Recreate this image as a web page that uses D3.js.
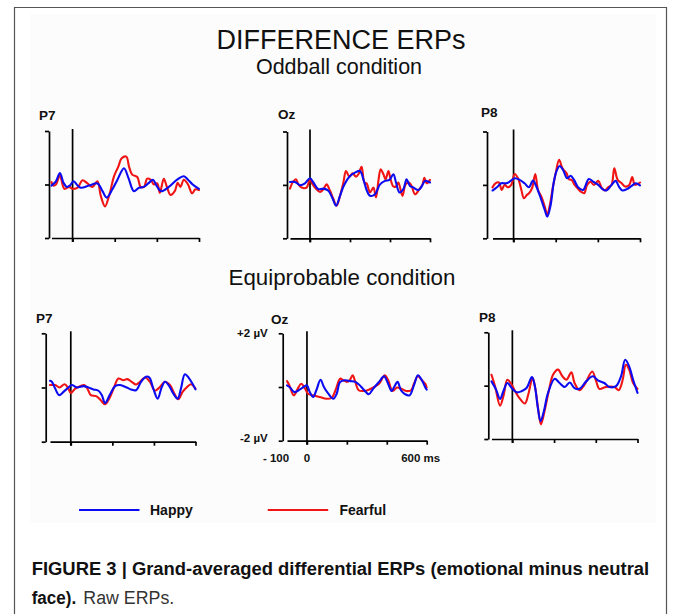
<!DOCTYPE html>
<html><head><meta charset="utf-8">
<script src="https://cdn.jsdelivr.net/npm/d3@7/dist/d3.min.js"></script>
<style>body{margin:0;background:#fff}svg{display:block}</style>
</head><body>
<svg id="chart" width="673" height="614"></svg>
<script>
// ---------- DATA ----------
const electrodes = ["P7", "Oz", "P8"];
const conditions = ["Oddball condition", "Equiprobable condition"];
const seriesNames = ["Happy", "Fearful"];
const xTicks = [0, 200, 400, 600];          // ms
const yTicks = [-2, 0, 2];                  // µV
const xDomain = [-100, 600];
const yDomain = [-2, 2];
const yLabels = ["+2 µV", "-2 µV"];
const xLabels = ["- 100", "0", "600 ms"];

// [ms, µV] — Oddball condition
const oddP7Happy = [[-100,-0.04],[-79,0.12],[-60,0.43],[-43,0.06],[-27,-0.09],[-13,-0.04],[5,0.12],[24,-0.04],[39,-0.12],[79,-0.04],[118,0.04],[142,-0.25],[162,-0.49],[189,-0.18],[213,0.18],[244,0.61],[265,0.25],[291,-0.25],[315,-0.12],[339,-0.09],[362,0.06],[381,0.18],[402,-0.09],[420,-0.25],[457,-0.09],[496,0.18],[528,0.31],[548,0.18],[570,0],[600,-0.16]];
const oddP7Fearful = [[-100,0.09],[-91,-0.04],[-79,0],[-60,0.33],[-39,-0.16],[-16,-0.09],[0,-0.16],[24,-0.12],[47,0.16],[71,0.04],[94,-0.09],[118,0.12],[134,-0.43],[154,-0.82],[173,-0.43],[197,0.31],[217,0.67],[233,0.98],[255,1.04],[268,0.67],[283,0.37],[307,0.28],[323,-0.09],[339,-0.09],[354,0.22],[370,0.18],[386,0],[402,0.04],[414,-0.31],[433,0.21],[449,-0.12],[465,-0.39],[485,-0.25],[499,0.06],[512,-0.09],[528,0.18],[548,0],[567,-0.33],[583,-0.18],[600,-0.21]];
const oddOzHappy = [[-100,0.11],[-75,0.11],[-50,-0.01],[-25,0.06],[0,0.25],[17,0.09],[42,-0.16],[67,-0.14],[92,-0.22],[113,-0.51],[130,-0.78],[150,-0.41],[170,-0.01],[200,0.33],[225,0.46],[250,0.52],[267,0.21],[283,-0.19],[300,-0.41],[325,-0.35],[350,0.02],[375,0.15],[397,0.19],[417,0.4],[430,0.09],[447,-0.28],[467,-0.16],[483,0.21],[500,-0.04],[517,-0.1],[542,-0.19],[558,-0.06],[575,0.15],[600,0.09]];
const oddOzFearful = [[-100,-0.14],[-87,0.09],[-70,0.21],[-58,0.02],[-42,-0.1],[-17,-0.1],[0,0.21],[13,0.02],[30,-0.14],[50,-0.26],[67,-0.16],[83,0.02],[100,-0.22],[117,-0.53],[133,-0.78],[150,-0.41],[167,0.09],[180,0.52],[197,0.31],[213,0.43],[230,0.31],[242,0.4],[258,0.68],[272,0.09],[283,0.06],[300,-0.28],[317,-0.1],[330,-0.47],[342,0.15],[353,0.58],[367,0.4],[378,0.21],[392,0.52],[403,0.21],[417,-0.06],[430,-0.06],[442,0.09],[462,-0.41],[478,0.02],[495,0.09],[508,-0.04],[525,-0.35],[547,-0.16],[563,0.02],[572,0.27],[583,0.06],[600,0.19]];
const oddP8Happy = [[-100,-0.21],[-79,-0.09],[-59,0.06],[-35,0.06],[-19,0.12],[5,0.25],[29,0.19],[52,0.06],[73,-0.09],[92,0.16],[108,-0.06],[129,-0.5],[148,-0.94],[160,-1.19],[176,-0.75],[190,0.06],[203,0.5],[219,0.71],[235,0.56],[254,0.25],[271,0.34],[287,0.19],[306,-0.09],[330,-0.19],[357,0.22],[378,0.12],[402,0],[422,-0.16],[441,-0.21],[465,0],[484,0.15],[502,-0.09],[517,-0.21],[537,-0.16],[560,-0.04],[579,0.06],[600,-0.02]];
const oddP8Fearful = [[-100,-0.09],[-86,0.06],[-70,0.09],[-56,-0.19],[-43,0],[-27,-0.09],[-11,0],[5,0.41],[21,0.25],[37,-0.19],[49,-0.5],[63,-0.38],[76,-0.29],[89,-0.09],[103,0.41],[116,-0.19],[132,-0.44],[148,-0.81],[160,-1.12],[171,-0.81],[187,-0.06],[200,0.44],[216,0.94],[232,0.62],[251,0.44],[263,0.21],[275,0.19],[290,0],[303,-0.12],[319,-0.25],[335,-0.31],[349,0],[365,0.12],[381,0],[402,0.15],[417,-0.09],[433,-0.21],[449,-0.09],[465,0],[478,0.62],[494,0.19],[513,0.06],[529,-0.06],[549,0],[563,0.29],[576,0],[600,0.09]];

// [ms, µV] — Equiprobable condition
const equiP7Happy = [[-100,0.25],[-91,0.21],[-75,-0.04],[-56,-0.28],[-35,-0.16],[-11,0],[5,0.09],[29,0],[61,0.05],[85,0],[109,-0.07],[133,-0.12],[149,-0.28],[165,-0.57],[189,-0.25],[213,0.05],[237,0.09],[269,0],[290,-0.07],[314,-0.1],[338,0.21],[362,0.4],[378,0.37],[397,-0.04],[418,-0.41],[437,0],[453,0.21],[474,0.05],[493,-0.22],[514,-0.41],[530,-0.04],[549,0.49],[570,0.33],[589,0.09],[600,-0.07]];
const equiP7Fearful = [[-100,0.09],[-75,0.09],[-54,0],[-30,0.12],[-14,0],[0,-0.2],[21,-0.04],[45,0.05],[64,0.09],[80,-0.04],[96,-0.28],[122,-0.32],[144,-0.47],[165,-0.62],[189,-0.35],[208,0],[229,0.33],[253,0.27],[272,0.31],[293,0.21],[314,0.11],[333,0.21],[357,0.37],[381,0.21],[405,-0.12],[429,0.02],[453,0.21],[477,0.09],[498,-0.22],[517,-0.43],[538,-0.16],[557,0],[578,0.12],[600,-0.04]];
const equiOzHappy = [[-100,0.06],[-85,-0.02],[-63,-0.19],[-37,-0.1],[-17,0],[0,0.06],[14,-0.19],[31,-0.37],[47,-0.12],[68,0.27],[85,0],[107,-0.25],[132,-0.44],[149,-0.25],[166,0.19],[191,0.25],[217,0.22],[242,0.19],[259,0.1],[285,-0.1],[310,-0.27],[332,-0.06],[361,0.19],[386,0.4],[403,0.19],[424,-0.15],[437,0],[454,0.19],[471,-0.12],[492,-0.27],[514,-0.31],[536,0.06],[556,0.44],[576,0.25],[593,-0.02],[600,-0.1]];
const equiOzFearful = [[-100,0.22],[-88,0.06],[-66,-0.31],[-46,-0.06],[-29,0.12],[-12,-0.02],[5,-0.25],[31,-0.31],[64,-0.37],[98,-0.44],[124,-0.4],[146,-0.06],[166,0.31],[183,0.25],[200,0.19],[214,0.25],[229,0.44],[242,0.19],[259,-0.12],[285,-0.15],[310,-0.1],[336,0],[361,0.12],[390,0.44],[407,0.25],[429,-0.15],[451,-0.02],[471,-0.06],[497,-0.15],[522,-0.12],[536,0.12],[556,0.4],[576,0.25],[593,0.12],[600,-0.02]];
const equiP8Happy = [[-100,0.16],[-78,-0.15],[-59,-0.5],[-43,-0.21],[-24,0.1],[-3,-0.09],[21,-0.25],[44,-0.21],[68,-0.09],[94,0.32],[108,-0.02],[121,-0.77],[135,-1.33],[151,-0.96],[171,-0.27],[203,0.26],[224,0.12],[251,-0.05],[275,0.12],[298,-0.09],[322,-0.12],[354,0.16],[386,0.35],[410,0.2],[441,0.1],[465,-0.05],[497,-0.02],[521,0.35],[541,0.97],[560,0.72],[579,0.22],[600,-0.27]];
const equiP8Fearful = [[-100,0.41],[-83,-0.02],[-59,-0.75],[-43,-0.4],[-24,0.22],[-8,0.1],[13,-0.21],[33,-0.46],[60,-0.67],[76,-0.34],[97,0.29],[111,-0.15],[124,-0.89],[137,-1.45],[156,-0.89],[176,-0.15],[195,0.41],[219,0.6],[240,0.35],[259,0.22],[283,0.5],[298,0.1],[322,-0.17],[346,0.04],[383,0.53],[402,0.16],[417,-0.12],[449,-0.05],[489,-0.05],[510,-0.17],[529,0.22],[544,0.78],[560,0.6],[579,0.1],[600,-0.12]];

const dataByPanel = [
  [[oddP7Happy, oddP7Fearful], [oddOzHappy, oddOzFearful], [oddP8Happy, oddP8Fearful]],
  [[equiP7Happy, equiP7Fearful], [equiOzHappy, equiOzFearful], [equiP8Happy, equiP8Fearful]]
];

// ---------- LAYOUT ----------
const panelLayout = [
  [ {ax:49,   x0:51.5, x1:199,   yT:131,   yB:238,   lx:39,  ly:120},
    {ax:287,  x0:290,  x1:430,   yT:131.5, yB:238.3, lx:278, ly:119},
    {ax:487,  x0:492.5,x1:640,   yT:131.5, yB:238.3, lx:481, ly:117} ],
  [ {ax:45.7, x0:50,   x1:195.5, yT:333.3, yB:441.7, lx:36,  ly:323},
    {ax:282.7,x0:287,  x1:426.7, yT:333.3, yB:440.7, lx:271, ly:324},
    {ax:488.3,x0:491.5,x1:637.5, yT:332.3, yB:439,   lx:479, ly:322} ]
];
const colors = {Happy:"#0b0bf2", Fearful:"#f01414"};
const FONT = "'Liberation Sans', Arial, Helvetica, sans-serif";

const svg = d3.select("#chart");
svg.append("rect").attr("width",673).attr("height",614).attr("fill","#fff");
// figure image background
svg.append("rect").attr("x",30).attr("y",14).attr("width",626).attr("height",509).attr("fill","#fcfcfc");
// frame
svg.append("path").attr("d","M14.5,614V7.5H666.5V614").attr("fill","none").attr("stroke","#555").attr("stroke-width",1.2);

// titles
svg.append("text").attr("x",341).attr("y",49).attr("text-anchor","middle")
  .style("font-family",FONT).style("font-size","27px").attr("fill","#111").text("DIFFERENCE ERPs");
const condY = [74, 285], condX = [339, 342], condSize = [21.5, 22.3];
conditions.forEach((c,i)=>{
  svg.append("text").attr("x",condX[i]).attr("y",condY[i]).attr("text-anchor","middle")
    .style("font-family",FONT).style("font-size",condSize[i]+"px").attr("fill","#111").text(c);
});

const line = d3.line().curve(d3.curveCatmullRom.alpha(0.5));

panelLayout.forEach((row, r) => {
  row.forEach((L, c) => {
    const x = d3.scaleLinear().domain(xDomain).range([L.x0, L.x1]);
    const y = d3.scaleLinear().domain(yDomain).range([L.yB, L.yT]);
    const g = svg.append("g");
    // y axis bracket
    const ya = g.append("g").attr("transform",`translate(${L.ax},0)`)
      .call(d3.axisLeft(y).tickValues(yTicks).tickSize(4).tickSizeOuter(0).tickFormat(""));
    // x axis
    const xa = g.append("g").attr("transform",`translate(0,${L.yB})`)
      .call(d3.axisBottom(x).tickValues(xTicks).tickSize(4).tickSizeOuter(0).tickFormat(""));
    [ya, xa].forEach(a => {
      a.selectAll("path,line").attr("stroke","#000").attr("stroke-width",1.7);
    });
    // stimulus onset line
    g.append("line").attr("x1",x(0)).attr("x2",x(0)).attr("y1",L.yT-2).attr("y2",L.yB+4)
      .attr("stroke","#000").attr("stroke-width",1.7);
    // series: Fearful first, Happy on top
    const pair = dataByPanel[r][c];
    [1,0].forEach(si => {
      g.append("path").datum(pair[si].map(d=>[x(d[0]), y(d[1])]))
        .attr("d", line).attr("fill","none")
        .attr("stroke", colors[seriesNames[si]]).attr("stroke-width",2.1)
        .attr("stroke-linejoin","round").attr("stroke-linecap","round");
    });
    // electrode label
    g.append("text").attr("x",L.lx).attr("y",L.ly)
      .style("font-family",FONT).style("font-weight","bold").style("font-size","13.5px")
      .attr("fill","#111").text(electrodes[c]);
    // scale labels on the equiprobable Oz panel
    if (r===1 && c===1) {
      const lab = (t, xx, yy, anchor) => g.append("text").attr("x",xx).attr("y",yy)
        .attr("text-anchor",anchor).style("font-family",FONT).style("font-weight","bold")
        .style("font-size","11.5px").attr("fill","#111").text(t);
      lab(yLabels[0], L.ax-15, y(2)+3.5, "end");
      lab(yLabels[1], L.ax-15, y(-2)+1, "end");
      lab(xLabels[0], x(-100)-11, L.yB+21, "middle");
      lab(xLabels[1], x(0), L.yB+21, "middle");
      lab(xLabels[2], x(600)-6, L.yB+21, "middle");
    }
  });
});

// legend
const legX = [79, 267.7], legTextX = [150, 339.5];
seriesNames.forEach((s,i)=>{
  svg.append("line").attr("x1",legX[i]).attr("x2",legX[i]+60.5).attr("y1",510).attr("y2",510)
    .attr("stroke",colors[s]).attr("stroke-width",2);
  svg.append("text").attr("x",legTextX[i]).attr("y",515)
    .style("font-family",FONT).style("font-weight","bold").style("font-size","14px")
    .attr("fill","#111").text(s);
});

// caption
svg.append("text").attr("x",31.7).attr("y",575)
  .style("font-family",FONT).style("font-weight","bold").style("font-size","18px")
  .attr("fill","#111").attr("textLength",617.5).attr("lengthAdjust","spacingAndGlyphs")
  .text("FIGURE 3 | Grand-averaged differential ERPs (emotional minus neutral");
svg.append("text").attr("x",31.7).attr("y",604)
  .style("font-family",FONT).style("font-weight","bold").style("font-size","18px")
  .attr("fill","#111").attr("textLength",44.5).attr("lengthAdjust","spacingAndGlyphs")
  .text("face).");
svg.append("text").attr("x",83.3).attr("y",604)
  .style("font-family",FONT).style("font-size","18px")
  .attr("fill","#333").attr("textLength",91).attr("lengthAdjust","spacingAndGlyphs")
  .text("Raw ERPs.");
</script>
</body></html>
